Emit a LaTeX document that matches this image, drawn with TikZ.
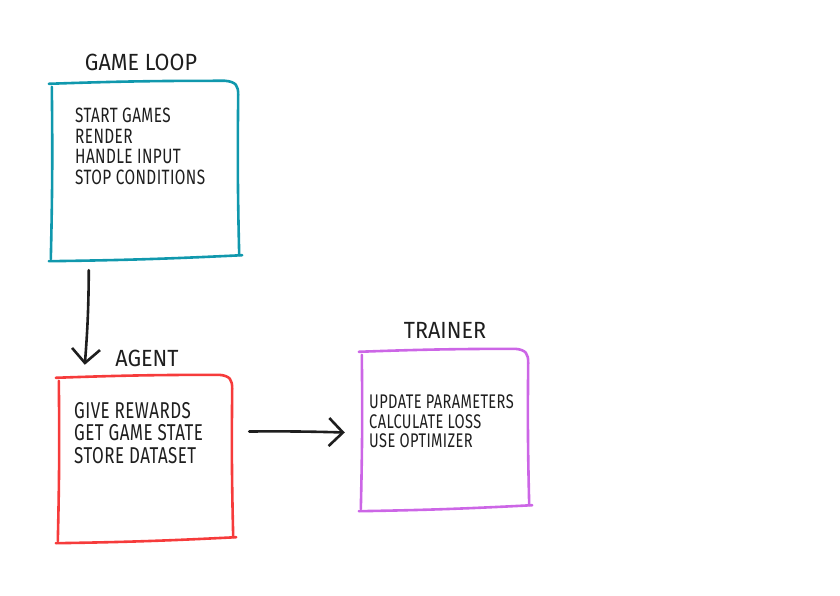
\documentclass[tikz,border=0pt]{standalone}
\usepackage{fontspec}
\setmainfont{Fira Sans}
\newfontfamily\bodyfont[FakeStretch=0.74, LetterSpace=2]{Fira Sans}
\newfontfamily\headfont[FakeStretch=0.92]{Fira Sans}
\usetikzlibrary{arrows.meta,calc}
\definecolor{cteal}{HTML}{1098AD}
\definecolor{cred}{HTML}{F63B3B}
\definecolor{cpurple}{HTML}{CC66E6}
\definecolor{ink}{HTML}{1E1E1E}
\tikzset{
  boxarea/.style={draw=none, inner sep=0pt, minimum width=#1},
  sketch/.style={line width=2.6bp, line cap=round, line join=round},
  headlabel/.style={font=\headfont\fontsize{23.5}{25}\selectfont, inner sep=0pt, text=ink},
  bodytext/.style n args={2}{font=\bodyfont\fontsize{#1}{#2}\selectfont, align=left, anchor=north west, inner sep=0pt, text=ink},
  arr/.style={line width=2.6bp, line cap=round, draw=ink, -{Straight Barb[length=14bp, width=28bp, line width=2.6bp]}},
}
\newcommand\sketchbox[2]{%
  \draw[sketch, #2] ($(#1.north west)+(0,4)$) to[bend left=1] ($(#1.south west)+(-1,1)$);
  \draw[sketch, #2] ($(#1.north west)+(-3,1)$) to[bend left=1] ($(#1.north east)+(-12,-2)$)
     .. controls ($(#1.north east)+(-1,-1)$) and ($(#1.north east)+(1,3)$) .. ($(#1.north east)+(1,12)$)
     to[bend right=1] ($(#1.south east)+(2,-3)$);
  \draw[sketch, #2] ($(#1.south west)+(-3,3)$) to[bend right=1] ($(#1.south east)+(5,-3)$);
}
\begin{document}
\begin{tikzpicture}[x=1bp, y=-1bp]
  \useasboundingbox (0,0) rectangle (840,596);
  % boxes
  \node[boxarea=185bp, minimum height=175bp] (gl) at (144.5,170.5) {};
  \node[boxarea=172bp, minimum height=163bp] (ag) at (145,458.5) {};
  \node[boxarea=165bp, minimum height=157bp] (tr) at (444.5,429.5) {};
  \sketchbox{gl}{cteal}
  \sketchbox{ag}{cred}
  \sketchbox{tr}{cpurple}
  % titles
  \node[headlabel] (glt) at (141,62) {GAME LOOP};
  \node[headlabel] (agt) at (147,358) {AGENT};
  \node[headlabel] (trt) at (445,330) {TRAINER};
  % texts
  \node[bodytext={20.8}{20.7}] (glx) at (75,108) {START GAMES\\RENDER\\HANDLE INPUT\\STOP CONDITIONS};
  \node[bodytext={23}{22.5}] (agx) at (74,402) {GIVE REWARDS\\GET GAME STATE\\STORE DATASET};
  \node[bodytext={19.8}{19.6}] (trx) at (369,394.5) {UPDATE PARAMETERS\\CALCULATE LOSS\\USE OPTIMIZER};
  % arrows
  \draw[arr] ($(gl.south west)+(37,12)$) to[bend left=2] ($(ag.north west)+(26,-12)$);
  \draw[arr] ($(ag.east)+(18,-27)$) to[bend left=1] ($(tr.west)+(-17,3)$);
\end{tikzpicture}
\end{document}
